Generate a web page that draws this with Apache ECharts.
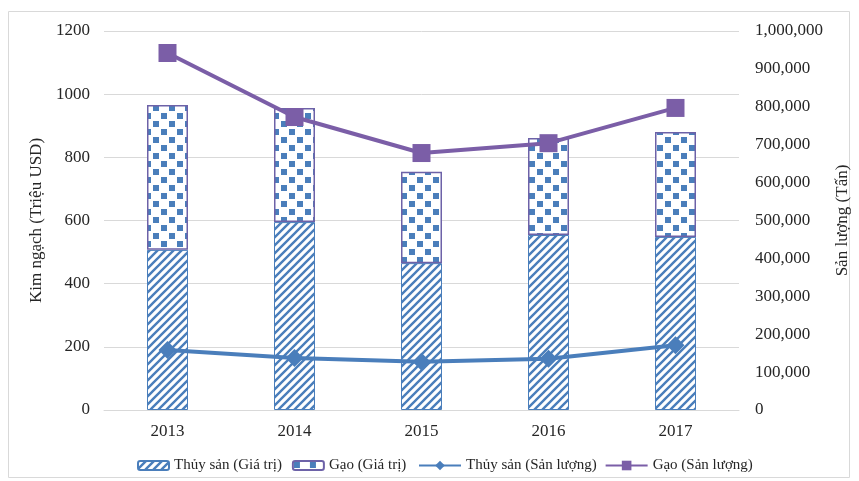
<!DOCTYPE html>
<html>
<head>
<meta charset="utf-8">
<script src="https://cdn.jsdelivr.net/npm/echarts@6/dist/echarts.min.js"></script>
<style>
  html, body { margin: 0; padding: 0; background: #fff; }
  #chart { width: 859px; height: 481px; }
</style>
</head>
<body>
<div id="chart"></div>
<script>
// data
const years = ['2013', '2014', '2015', '2016', '2017']
const thuySanGiaTri = [507, 595, 465, 554, 548]
const gaoGiaTri = [459, 361, 289, 307, 332]
const thuySanSanLuong = [158000, 137000, 127000, 135000, 171000]
const gaoSanLuong = [942000, 773000, 678000, 704000, 797000]

const BLUE = '#4a7ebb'
const PURPLE = '#7b5ea7'

// diagonal hatch
function hatchPattern() {
  const c = document.createElement('canvas')
  c.width = 8
  c.height = 8
  const ctx = c.getContext('2d')
  ctx.fillStyle = '#fff'
  ctx.fillRect(0, 0, 8, 8)
  ctx.strokeStyle = BLUE
  ctx.lineWidth = 2.4
  ctx.beginPath()
  ctx.moveTo(-2, 10); ctx.lineTo(10, -2)
  ctx.moveTo(-6, 6); ctx.lineTo(6, -6)
  ctx.moveTo(2, 14); ctx.lineTo(14, 2)
  ctx.stroke()
  return c
}

// staggered squares
function checkPattern() {
  const c = document.createElement('canvas')
  c.width = 16
  c.height = 16
  const ctx = c.getContext('2d')
  ctx.fillStyle = '#fff'
  ctx.fillRect(0, 0, 16, 16)
  ctx.fillStyle = BLUE
  ctx.fillRect(1, 1, 6, 6)
  ctx.fillRect(9, 9, 6, 6)
  return c
}

const fontFamily = '"Liberation Serif", "Times New Roman", serif'
const textColor = '#262626'
const chart = echarts.init(document.getElementById('chart'))

chart.setOption({
  animation: false,
  textStyle: { fontFamily: fontFamily },
  graphic: [{
    type: 'rect',
    shape: { x: 8.5, y: 11.5, width: 841, height: 466 },
    style: { fill: 'none', stroke: '#d9d9d9', lineWidth: 1 },
    silent: true
  }],
  grid: { left: 104, right: 120, top: 31, bottom: 71 },
  legend: [
    {
      bottom: 3,
      left: 132,
      itemGap: 10,
      itemWidth: 31,
      itemHeight: 9,
      textStyle: { fontFamily: fontFamily, fontSize: 15, color: textColor },
      data: ['Thủy sản (Giá trị)', 'Gạo (Giá trị)']
    },
    {
      bottom: 3,
      left: 413,
      itemGap: 8,
      itemWidth: 42,
      itemHeight: 12,
      textStyle: { fontFamily: fontFamily, fontSize: 15, color: textColor },
      data: ['Thủy sản (Sản lượng)', 'Gạo (Sản lượng)']
    }
  ],
  xAxis: {
    type: 'category',
    data: years,
    axisLine: { lineStyle: { color: '#d9d9d9' } },
    axisTick: { show: false },
    axisLabel: { color: textColor, fontSize: 17, margin: 13, fontFamily: fontFamily }
  },
  yAxis: [
    {
      type: 'value',
      min: 0,
      max: 1200,
      interval: 200,
      name: 'Kim ngạch (Triệu USD)',
      nameLocation: 'middle',
      nameGap: 49,
      nameTextStyle: { fontSize: 17, color: textColor, fontFamily: fontFamily },
      axisLine: { show: false },
      axisTick: { show: false },
      axisLabel: {
        color: textColor, fontSize: 17, margin: 14, fontFamily: fontFamily,
        formatter: v => String(v)
      },
      splitLine: { lineStyle: { color: '#d9d9d9' } }
    },
    {
      type: 'value',
      min: 0,
      max: 1000000,
      interval: 100000,
      name: 'Sản lượng (Tấn)',
      nameLocation: 'middle',
      nameGap: 92,
      nameRotate: 90,
      nameTextStyle: { fontSize: 17, color: textColor, fontFamily: fontFamily },
      axisLine: { show: false },
      axisTick: { show: false },
      axisLabel: {
        color: textColor, fontSize: 17, margin: 16, fontFamily: fontFamily,
        formatter: v => v.toLocaleString('en-US')
      },
      splitLine: { show: false }
    }
  ],
  series: [
    {
      name: 'Thủy sản (Giá trị)',
      type: 'bar',
      stack: 'giatri',
      barWidth: 41,
      data: thuySanGiaTri,
      itemStyle: {
        color: { image: hatchPattern(), repeat: 'repeat' },
        borderColor: BLUE,
        borderWidth: 1
      }
    },
    {
      name: 'Gạo (Giá trị)',
      type: 'bar',
      stack: 'giatri',
      barWidth: 41,
      data: gaoGiaTri,
      itemStyle: {
        color: { image: checkPattern(), repeat: 'repeat' },
        borderColor: '#6d62a8',
        borderWidth: 1.5
      }
    },
    {
      name: 'Thủy sản (Sản lượng)',
      type: 'line',
      yAxisIndex: 1,
      data: thuySanSanLuong,
      symbol: 'diamond',
      symbolSize: [18, 18],
      lineStyle: { color: BLUE, width: 4 },
      itemStyle: { color: BLUE }
    },
    {
      name: 'Gạo (Sản lượng)',
      type: 'line',
      yAxisIndex: 1,
      data: gaoSanLuong,
      symbol: 'rect',
      symbolSize: 18,
      lineStyle: { color: PURPLE, width: 4 },
      itemStyle: { color: PURPLE }
    }
  ]
})
</script>
</body>
</html>
